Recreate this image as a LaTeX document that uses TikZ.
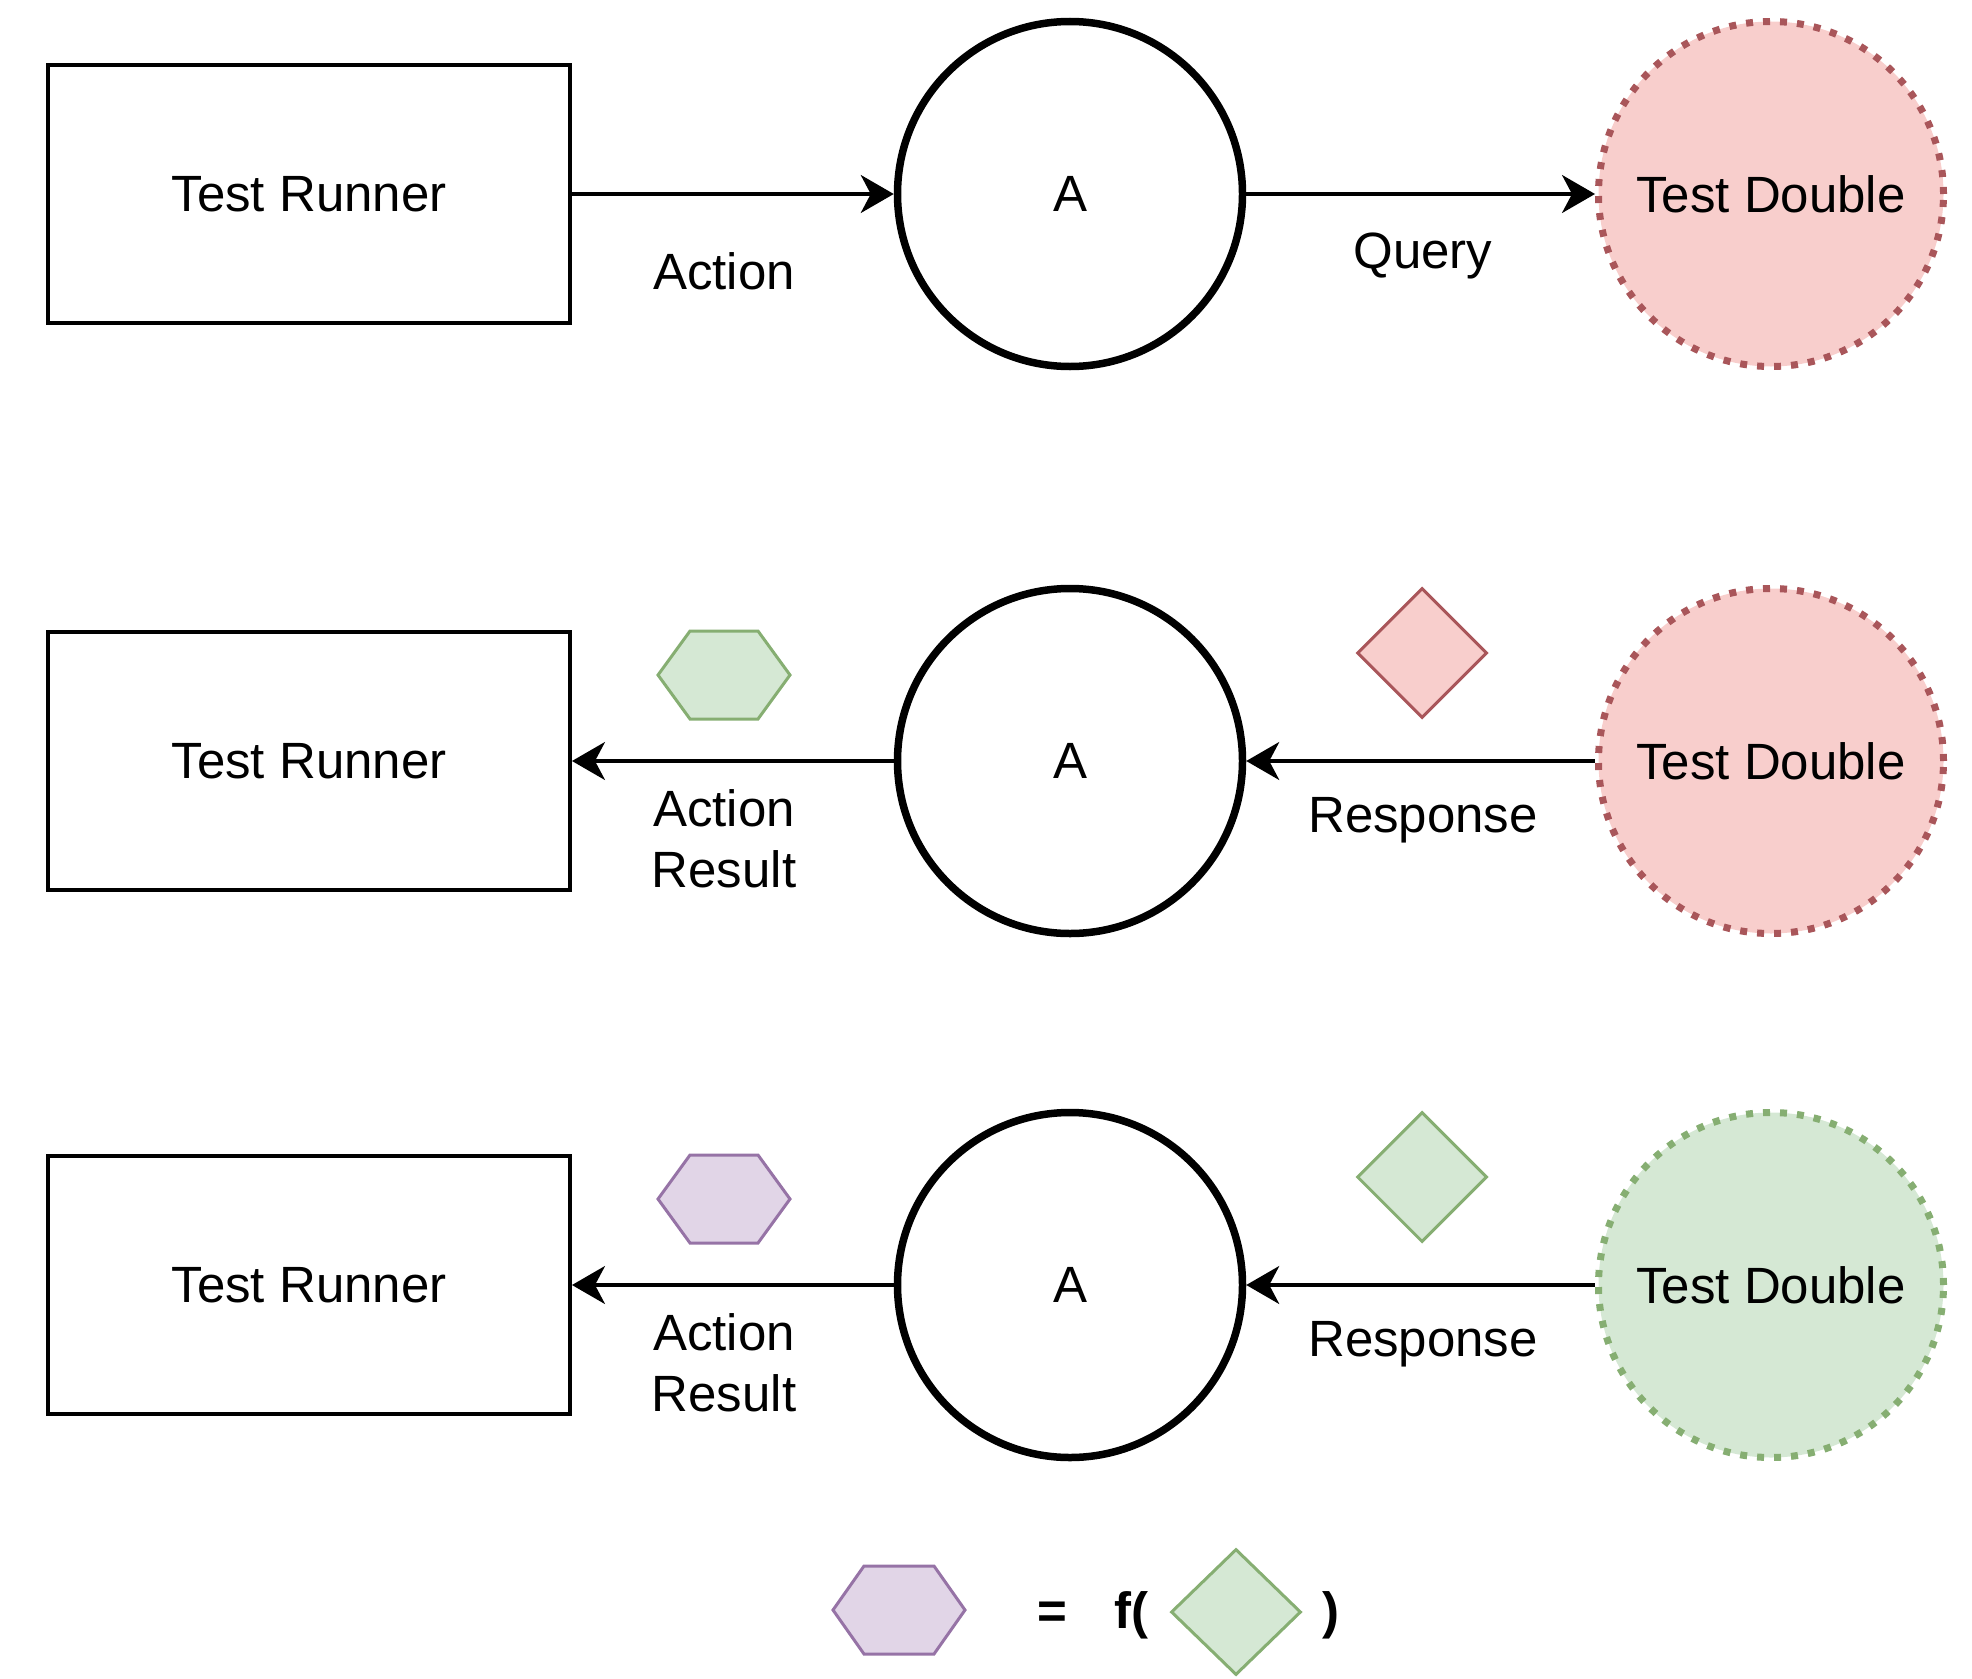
\documentclass[tikz,border=0pt]{standalone}
\usepackage{fontspec}
\setmainfont{Liberation Sans}
\usetikzlibrary{arrows.meta,shapes.geometric}
\definecolor{redfill}{HTML}{F8CECC}
\definecolor{redline}{HTML}{A9565A}
\definecolor{greenfill}{HTML}{D5E8D4}
\definecolor{greenline}{HTML}{86AE72}
\definecolor{purplefill}{HTML}{E1D5E7}
\definecolor{purpleline}{HTML}{9673A6}
\begin{document}
\begin{tikzpicture}[x=1pt,y=-1pt,
  every node/.style={font=\fontsize{51}{61}\selectfont},
  runner/.style={draw, line width=4pt, minimum width=522pt, minimum height=258pt, inner sep=0pt},
  sut/.style={draw, circle, line width=7.5pt, minimum size=345pt, inner sep=0pt},
  tdouble/.style={circle, line width=7pt, dash pattern=on 7pt off 10pt, minimum size=345pt, inner sep=0pt},
  tdred/.style={tdouble, draw=redline, fill=redfill},
  tdgreen/.style={tdouble, draw=greenline, fill=greenfill},
  flow/.style={line width=3.2pt, -{Stealth[length=33pt,width=38pt,inset=10pt]}},
  lbl/.style={anchor=base, align=center, inner sep=0pt},
  token/.style={line width=3pt, line join=miter},
  hexgreen/.style={token, draw=greenline, fill=greenfill},
  hexpurple/.style={token, draw=purpleline, fill=purplefill},
  gem/.style={diamond, aspect=1, minimum width=130pt, minimum height=130pt, inner sep=0pt, line width=3pt},
  gemred/.style={gem, draw=redline, fill=redfill},
  gemgreen/.style={gem, draw=greenline, fill=greenfill}]
\useasboundingbox (0,0) rectangle (1972,1678);

% ---- row 1: action and query ----
\node[runner] (run1) at (309,194) {Test Runner};
\node[sut] (a1) at (1070,194) {A};
\node[tdred] (td1) at (1771,194) {Test Double};
\draw[flow] (run1) -- (a1);
\draw[flow] (a1) -- (td1);
\node[lbl] (act1) at (724,289) {Action};
\node[lbl] (qry1) at (1423,268) {Query};

% ---- row 2: response and action result ----
\node[runner] (run2) at (309,761) {Test Runner};
\node[sut] (a2) at (1070,761) {A};
\node[tdred] (td2) at (1771,761) {Test Double};
\draw[flow] (td2) -- (a2);
\draw[flow] (a2) -- (run2);
% multi-line labels: the base anchor sits on the last line
\node[lbl] (res2) at (724,887) {Action\\Result};
\node[lbl] (rsp2) at (1423,832) {Response};
\draw[hexgreen, shift={(724,675)}] (-66,0) -- (-34,-44) -- (34,-44) -- (66,0) -- (34,44) -- (-34,44) -- cycle;
\node[gemred] (g2) at (1422,653) {};

% ---- row 3: derived result ----
\node[runner] (run3) at (309,1285) {Test Runner};
\node[sut] (a3) at (1070,1285) {A};
\node[tdgreen] (td3) at (1771,1285) {Test Double};
\draw[flow] (td3) -- (a3);
\draw[flow] (a3) -- (run3);
\node[lbl] (res3) at (724,1411) {Action\\Result};
\node[lbl] (rsp3) at (1423,1356) {Response};
\draw[hexpurple, shift={(724,1199)}] (-66,0) -- (-34,-44) -- (34,-44) -- (66,0) -- (34,44) -- (-34,44) -- cycle;
\node[gemgreen] (g3) at (1422,1177) {};

% ---- legend ----
\draw[hexpurple, shift={(899,1610)}] (-66,0) -- (-35,-44) -- (35,-44) -- (66,0) -- (35,44) -- (-35,44) -- cycle;
\node[lbl, font=\fontsize{51}{61}\selectfont\bfseries] (eq) at (1052,1628) {=};
\node[lbl, font=\fontsize{51}{61}\selectfont\bfseries] (fo) at (1131,1628) {f(};
\node[gemgreen, minimum height=126pt] (gl) at (1236,1612) {};
\node[lbl, font=\fontsize{51}{61}\selectfont\bfseries] (fc) at (1331,1628) {)};
\end{tikzpicture}
\end{document}
